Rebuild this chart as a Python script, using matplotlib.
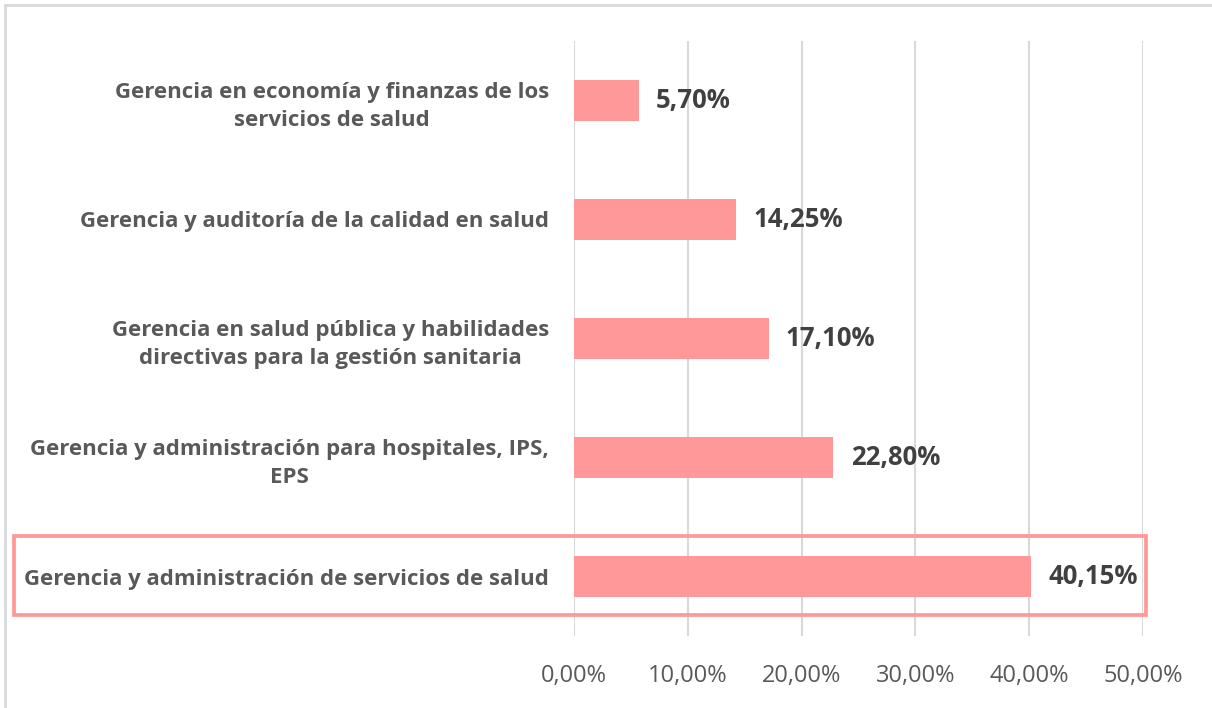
import matplotlib
matplotlib.use('Agg')
import matplotlib.pyplot as plt
from matplotlib.patches import Rectangle
from matplotlib.lines import Line2D

categorias = [
    'Gerencia y administración de servicios de salud',
    'Gerencia y administración para hospitales, IPS,\nEPS',
    'Gerencia en salud pública y habilidades\ndirectivas para la gestión sanitaria',
    'Gerencia y auditoría de la calidad en salud',
    'Gerencia en economía y finanzas de los\nservicios de salud',
]
valores = [40.15, 22.80, 17.10, 14.25, 5.70]
ticks_x = [0, 10, 20, 30, 40, 50]

plt.rcParams['font.family'] = ['Open Sans', 'DejaVu Sans']

W, H = 1212, 708
fig = plt.figure(figsize=(W / 100, H / 100), dpi=100)
ax = fig.add_axes([574 / W, 1 - 636 / H, (1143 - 574) / W, (636 - 41) / H])

rosa = '#FF9999'
gris = '#595959'

pos = range(len(categorias))
ax.barh(pos, valores, height=0.35, color=rosa, zorder=3)
ax.set_ylim(-0.5, len(categorias) - 0.5)
ax.set_xlim(0, 50)

ax.set_xticks(ticks_x)
ax.set_xticklabels(['{:.2f}%'.format(t).replace('.', ',') for t in ticks_x],
                   fontsize=17, color=gris)
ax.set_yticks(list(pos))
ax.set_yticklabels(categorias, fontsize=16, fontweight='bold', color=gris,
                   multialignment='center', linespacing=1.45)
ax.tick_params(axis='y', length=0, pad=18)
ax.tick_params(axis='x', length=0, pad=20)
ax.grid(axis='x', color='#D9D9D9', linewidth=1.5, zorder=0)
for s in ax.spines.values():
    s.set_visible(False)

for i, v in enumerate(valores):
    ax.annotate('{:.2f}%'.format(v).replace('.', ','), (v, i),
                xytext=(12.5, 0), textcoords='offset points',
                ha='left', va='center', fontsize=18.5, fontweight='bold',
                color='#404040')

# recuadro resaltando la primera categoria
fig.patches.append(Rectangle((14 / W, 1 - 615 / H), (1146 - 14) / W, (615 - 536) / H,
                             transform=fig.transFigure, fill=False,
                             edgecolor=rosa, linewidth=2.7))
# borde del grafico (solo arriba e izquierda visibles)
fig.lines.append(Line2D([5 / W, 5 / W], [0, 1 - 5 / H], transform=fig.transFigure,
                        color='#D9D9D9', linewidth=2))
fig.lines.append(Line2D([5 / W, 1], [1 - 5 / H, 1 - 5 / H], transform=fig.transFigure,
                        color='#D9D9D9', linewidth=2))

plt.savefig('out.png', dpi=100)
